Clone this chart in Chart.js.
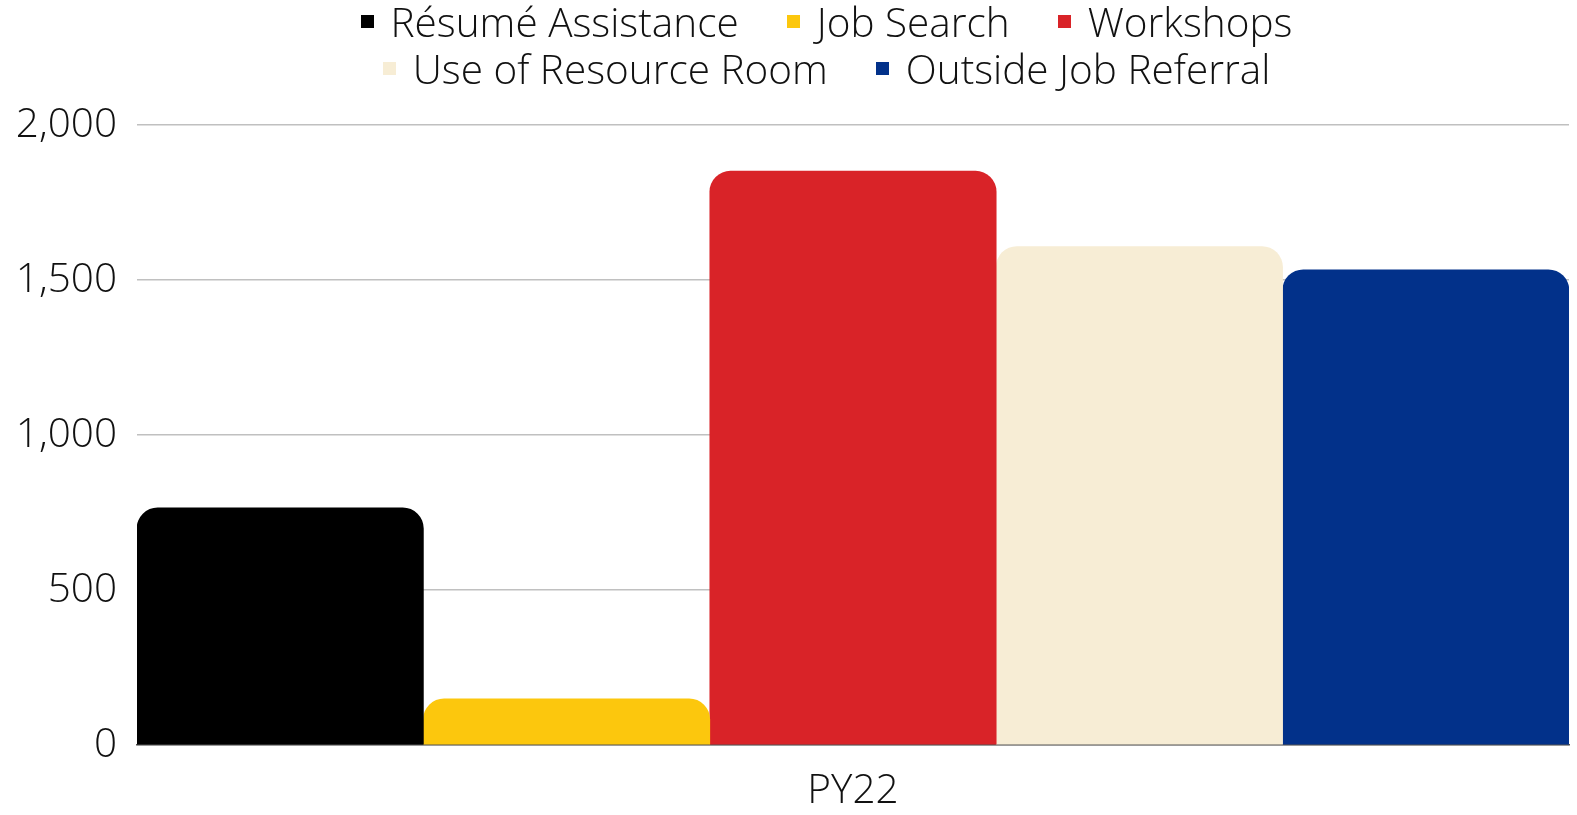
<!DOCTYPE html>
<html>
<head>
<meta charset="utf-8">
<script src="https://cdn.jsdelivr.net/npm/chart.js@4/dist/chart.umd.min.js"></script>
<style>
  html, body { margin: 0; padding: 0; background: #ffffff; }
  #wrap { position: relative; width: 1577px; height: 815px; }
  #legend { position: absolute; left: 80px; top: -2px; width: 1493px; font-family: 'Open Sans', 'Noto Sans', sans-serif; font-weight: 300; font-size: 40.5px; color: #111; }
  .row { display: flex; justify-content: center; height: 47px; line-height: 47px; }
  .item { display: flex; align-items: center; margin: 0 24px; white-space: nowrap; }
  .box { width: 13px; height: 13px; margin-right: 17px; display: inline-block; }
</style>
</head>
<body>
<div id="wrap"><canvas id="c"></canvas><div id="legend"></div></div>
<script>
const categories = ["PY22"];
const seriesNames = ["Résumé Assistance", "Job Search", "Workshops", "Use of Resource Room", "Outside Job Referral"];
const resumeAssistance = [765];
const jobSearch = [149];
const workshops = [1851];
const resourceRoom = [1608];
const outsideReferral = [1533];
const yTicks = [0, 500, 1000, 1500, 2000];
const colors = ["#000000", "#fcc70d", "#d92328", "#f7edd5", "#02318a"];
const legendRows = [[0, 1, 2], [3, 4]];

const seriesValues = [resumeAssistance, jobSearch, workshops, resourceRoom, outsideReferral];
const FONT = "'Open Sans', 'Noto Sans', sans-serif";

const chart = new Chart(document.getElementById('c'), {
  type: 'bar',
  data: {
    labels: categories,
    datasets: seriesNames.map((n, i) => ({
      label: n,
      data: seriesValues[i],
      backgroundColor: colors[i],
      borderWidth: 0,
      borderRadius: { topLeft: 21, topRight: 21, bottomLeft: 0, bottomRight: 0 },
      borderSkipped: 'bottom',
      categoryPercentage: 1.0,
      barPercentage: 1.0
    }))
  },
  options: {
    responsive: true,
    maintainAspectRatio: false,
    animation: false,
    layout: { padding: { left: 0, right: 8, top: 125, bottom: 0 } },
    plugins: {
      tooltip: { enabled: false },
      legend: { display: false }
    },
    scales: {
      x: {
        afterFit(axis) { axis.height = 70; },
        grid: { display: false, drawTicks: false },
        border: { display: true, color: '#555555', width: 1.5 },
        ticks: { color: '#111111', padding: 22, font: { family: FONT, size: 40.5, weight: 300 } }
      },
      y: {
        min: 0,
        max: 2000,
        afterBuildTicks(axis) { axis.ticks = yTicks.map(v => ({ value: v })); },
        afterFit(axis) { axis.width = 137; },
        grid: { color: '#c0c0c0', lineWidth: 1.5, drawTicks: false },
        border: { display: false },
        ticks: {
          color: '#111111',
          padding: 20,
          font: { family: FONT, size: 40.5, weight: 300 },
          callback: v => v.toLocaleString('en-US')
        }
      }
    }
  }
});

// HTML legend built from the chart's datasets
const legendEl = document.getElementById('legend');
legendRows.forEach(row => {
  const r = document.createElement('div');
  r.className = 'row';
  row.forEach(i => {
    const ds = chart.data.datasets[i];
    const it = document.createElement('div');
    it.className = 'item';
    const b = document.createElement('span');
    b.className = 'box';
    b.style.background = ds.backgroundColor;
    const t = document.createElement('span');
    t.textContent = ds.label;
    it.appendChild(b); it.appendChild(t);
    r.appendChild(it);
  });
  legendEl.appendChild(r);
});
</script>
</body>
</html>
